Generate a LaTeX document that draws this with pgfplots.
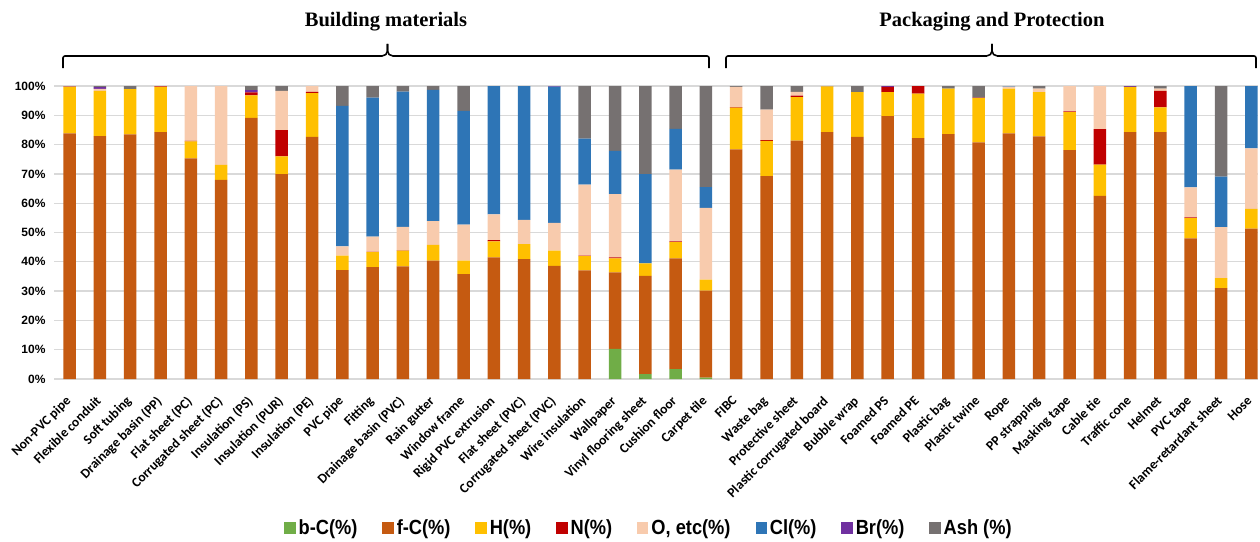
\documentclass[border=0pt]{standalone}
\usepackage{pgfplots}
\pgfplotsset{compat=1.18}
\usepackage{pgfplotstable}
\usepackage{fontspec}
\setmainfont{Liberation Sans}
\newfontfamily\carlito{Carlito}
\newfontfamily\timesf{Liberation Serif}
\newfontfamily\legfont[FakeStretch=0.89]{Liberation Sans}
\definecolor{bCc}{HTML}{70AD47}
\definecolor{fCc}{HTML}{C55A11}
\definecolor{Hc}{HTML}{FFC000}
\definecolor{Nc}{HTML}{C00000}
\definecolor{Oc}{HTML}{F8CBAD}
\definecolor{Clc}{HTML}{2E75B6}
\definecolor{Brc}{HTML}{7030A0}
\definecolor{Ashc}{HTML}{767171}
\definecolor{gridgray}{HTML}{D9D9D9}

\pgfplotstableread{
x  bC   fC   H    N    O    Cl   Br   Ash
0  0    83.8 15.9 0.1  0.1  0    0    0.1
1  0    82.9 15.4 0    0.7  0    0.6  0.4
2  0    83.5 15.4 0    0    0    0    1.1
3  0    84.3 15.4 0.2  0.1  0    0    0
4  0    75.3 5.8  0.2  18.7 0    0    0
5  0    68.0 5.1  0    26.9 0    0    0
6  0    89.1 7.7  1.0  0    0    0.8  1.4
7  0    69.9 6.1  8.9  13.4 0    0    1.7
8  0    82.6 15.0 0.4  2.0  0    0    0
9  0    37.2 4.9  0    3.2  47.9 0    6.8
10 0    38.2 5.1  0.1  5.2  47.4 0    4.0
11 0    38.4 5.4  0.1  8.0  46.2 0    1.9
12 0    40.4 5.4  0    8.1  44.8 0    1.3
13 0    35.8 4.6  0    12.3 38.8 0    8.5
14 0    41.5 5.5  0.4  8.8  43.8 0    0
15 0    40.9 5.1  0    8.3  45.7 0    0
16 0    38.6 5.2  0    9.5  46.5 0.2  0
17 0    37.1 4.8  0.2  24.2 15.7 0    18.0
18 10.3 26.1 4.8  0.3  21.6 14.8 0    22.1
19 1.7  33.5 4.3  0    0    30.4 0    30.1
20 3.4  37.8 5.5  0.3  24.5 13.9 0    14.6
21 0.5  29.7 3.7  0    24.5 7.1  0    34.5
22 0    78.4 14.2 0.2  6.9  0    0    0.3
23 0    69.2 12.1 0.2  10.4 0    0    8.1
24 0    81.4 14.8 0.5  1.3  0    0    2.0
25 0    84.3 15.6 0    0    0    0.1  0
26 0    82.6 15.3 0    0    0    0    2.1
27 0    89.7 8.2  1.8  0    0    0.3  0
28 0    82.2 15.2 2.6  0    0    0    0
29 0    83.6 15.5 0    0    0    0    0.9
30 0    80.8 15.1 0.1  0    0    0    4.0
31 0    83.8 15.3 0    0.7  0.2  0    0
32 0    82.8 15.1 0    1.2  0    0    0.9
33 0    78.1 13.0 0.2  8.7  0    0    0
34 0    62.5 10.7 12.1 14.7 0    0    0
35 0    84.3 15.4 0    0    0    0.3  0
36 0    84.3 8.4  5.6  0.8  0    0    0.9
37 0    48.0 6.9  0.3  10.2 34.6 0    0
38 0    31.0 3.4  0    17.4 17.3 0    30.9
39 0    51.3 6.8  0    20.6 21.3 0    0
}\datatable

\begin{document}
\begin{tikzpicture}
\begin{scope}[shift={(-54.5pt,379pt)},x=1pt,y=-1pt]
\useasboundingbox (0,0) rectangle (1260,532);
\end{scope}
\begin{axis}[
  scale only axis, width=1203.5pt, height=293pt,
  ybar stacked, bar width=12.5pt,
  xmin=-0.5, xmax=39.22, ymin=0, ymax=100,
  axis line style={draw=none},
  major tick length=0pt,
  /pgf/number format/assume math mode=true,
  xtick={0,...,39},
  xticklabels={Non-PVC pipe,Flexible conduit,Soft tubing,Drainage basin (PP),Flat sheet (PC),Corrugated sheet (PC),Insulation (PS),Insulation (PUR),Insulation (PE),PVC pipe,Fitting,Drainage basin (PVC),Rain gutter,Window frame,Rigid PVC extrusion,Flat sheet (PVC),Corrugated sheet (PVC),Wire insulation,Wallpaper,Vinyl flooring sheet,Cushion floor,Carpet tile,FIBC,Waste bag,Protective sheet,Plastic corrugated board,Bubble wrap,Foamed PS,Foamed PE,Plastic bag,Plastic twine,Rope,PP strapping,Masking tape,Cable tie,Traffic cone,Helmet,PVC tape,Flame-retardant sheet,Hose},
  xticklabel style={xshift=-5pt, yshift=-14.5pt, font=\carlito\bfseries\fontsize{13.5}{15}\selectfont, rotate=45, anchor=north east, inner sep=1pt},
  ytick={0,10,...,100},
  yticklabel={\pgfmathprintnumber{\tick}\%},
  yticklabel style={font=\bfseries\fontsize{12}{14}\selectfont, xshift=-5.5pt},
  ymajorgrids, grid style={color=gridgray, line width=1.3pt},
  every axis plot/.append style={draw=none},
  legend columns=8,
  legend style={at={(axis description cs:0.4944,-0.5086)}, anchor=center, draw=none, fill=none,
    font=\legfont\bfseries\fontsize{20.5}{22}\selectfont,
    nodes={inner sep=3pt},
    /tikz/every even column/.append style={column sep=22pt}},
  legend image code/.code={\fill[#1] (0pt,-5.7pt) rectangle (11.3pt,5.7pt);},
]
\addplot[fill=bCc] table[x=x,y=bC] {\datatable};
\addplot[fill=fCc] table[x=x,y=fC] {\datatable};
\addplot[fill=Hc] table[x=x,y=H] {\datatable};
\addplot[fill=Nc] table[x=x,y=N] {\datatable};
\addplot[fill=Oc] table[x=x,y=O] {\datatable};
\addplot[fill=Clc] table[x=x,y=Cl] {\datatable};
\addplot[fill=Brc] table[x=x,y=Br] {\datatable};
\addplot[fill=Ashc] table[x=x,y=Ash] {\datatable};
\legend{b-C(\%),f-C(\%),H(\%),N(\%),{O, etc(\%)},Cl(\%),Br(\%),Ash (\%)}
\end{axis}
\begin{scope}[shift={(-54.5pt,379pt)},x=1pt,y=-1pt]
\node[font=\timesf\bfseries\fontsize{20.5}{24}\selectfont, anchor=base] at (386,27) {Building materials};
\node[font=\timesf\bfseries\fontsize{20.5}{24}\selectfont, anchor=base] at (992,27) {Packaging and Protection};
\draw[line width=1.6pt, rounded corners=2pt] (63,68) -- (63,56) -- (384,56) -- (387.5,53) -- (387.5,44);
\draw[line width=1.6pt, rounded corners=2pt] (387.5,44) -- (387.5,53) -- (391,56) -- (709,56) -- (709,68);
\draw[line width=1.6pt, rounded corners=2pt] (726,68) -- (726,56) -- (988.5,56) -- (992,53) -- (992,44);
\draw[line width=1.6pt, rounded corners=2pt] (992,44) -- (992,53) -- (995.5,56) -- (1256,56) -- (1256,68);
\end{scope}
\end{tikzpicture}
\end{document}
